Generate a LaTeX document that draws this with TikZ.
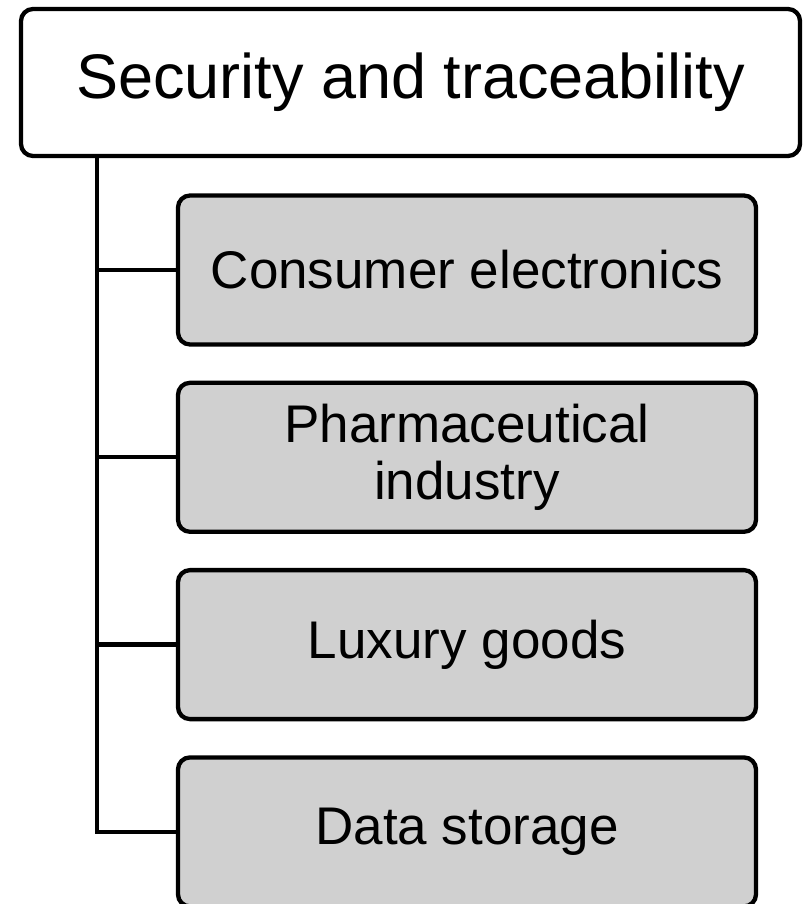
\documentclass[tikz,border=0pt]{standalone}
\usepackage{fontspec}
\setmainfont{Liberation Sans}
\usepackage{tikz}
\usetikzlibrary{positioning,calc}
\definecolor{boxgray}{RGB}{208,208,208}
\definecolor{ink}{RGB}{0,0,0}

\begin{document}
\begin{tikzpicture}[
  x=1pt, y=-1pt,
  line width=4.3pt,
  head/.style={draw=ink, fill=white, rounded corners=12pt, align=center, minimum width=779pt, minimum height=147pt, inner sep=0pt, font=\fontsize{63}{66}\selectfont},
  leaf/.style={draw=ink, fill=boxgray, rounded corners=12pt, align=center, minimum width=578pt, minimum height=149pt, inner sep=0pt, font=\fontsize{53}{57}\selectfont},
  link/.style={draw=ink, line width=4.3pt},
]
\useasboundingbox (0,0) rectangle (803,904);
\node[head] (sec) at (410.5,82.5) {Security and traceability};
\node[leaf] (cons) at (467,270) {Consumer electronics};
\node[leaf, below=34pt of cons] (pharma) {Pharmaceutical\\industry};
\node[leaf, below=34pt of pharma] (lux) {Luxury goods};
\node[leaf, below=34pt of lux] (data) {Data storage};
% trunk line from the head box down the left side
\coordinate (trunk) at ($(sec.south west)+(78pt,0)$);
\draw[link] (trunk) |- (cons.west);
\draw[link] (trunk) |- (pharma.west);
\draw[link] (trunk) |- (lux.west);
\draw[link] (trunk) |- (data.west);
\end{tikzpicture}
\end{document}
